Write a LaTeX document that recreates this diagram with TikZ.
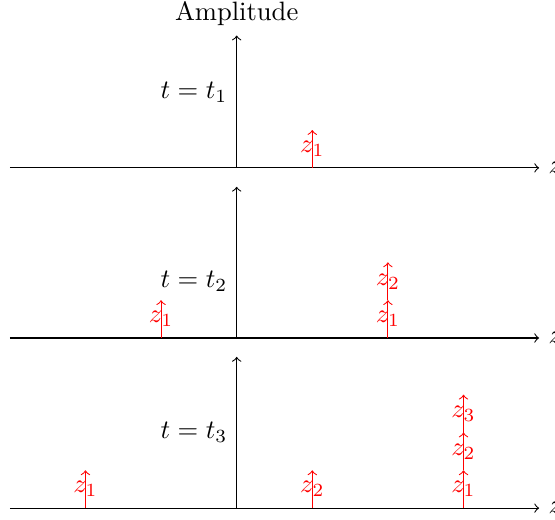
\documentclass[tikz,border=0pt]{standalone}
\usepackage{amsmath,amssymb}
\usepackage{tikz}
\usetikzlibrary{arrows.meta,positioning,calc}

\begin{document}
\begin{tikzpicture}[>=to]
\tikzstyle{pulse}=[red,->]
\tikzstyle{lbl}=[red]
\useasboundingbox (-3.13,-0.146) rectangle (4.21,6.72);
% axes of the three snapshots
\foreach \k/\y/\h in {1/4.5/1.75,2/2.25/2,3/0/2} {
  \coordinate (l\k) at (-3,\y);
  \coordinate (r\k) at (4,\y);
  \coordinate (o\k) at (0,\y);
  \coordinate (a\k) at (0,\y+\h);
  \draw[->] (l\k) -- (r\k) node[right] (zax\k) {$z$};
  \draw[->] (o\k) -- (a\k);
}
\node[above] (amp) at (a1) {Amplitude};
\node[left] (t1) at (0,5.5) {$t=t_1$};
\node[left] (t2) at (0,3.0) {$t=t_2$};
\node[left] (t3) at (0,1) {$t=t_3$};
% pulses
\foreach \x/\y/\n [count=\i] in {1/4.5/1,-1/2.25/1,2/2.25/1,2/2.75/2,-2/0/1,1/0/2,3/0/1,3/0.5/2,3/1/3} {
  \coordinate (s\i) at (\x,\y);
  \coordinate (e\i) at (\x,\y+0.5);
  \draw[pulse] (s\i) -- (e\i) node[midway,lbl] (pz\i) {$z_\n$};
}
\end{tikzpicture}
\end{document}
